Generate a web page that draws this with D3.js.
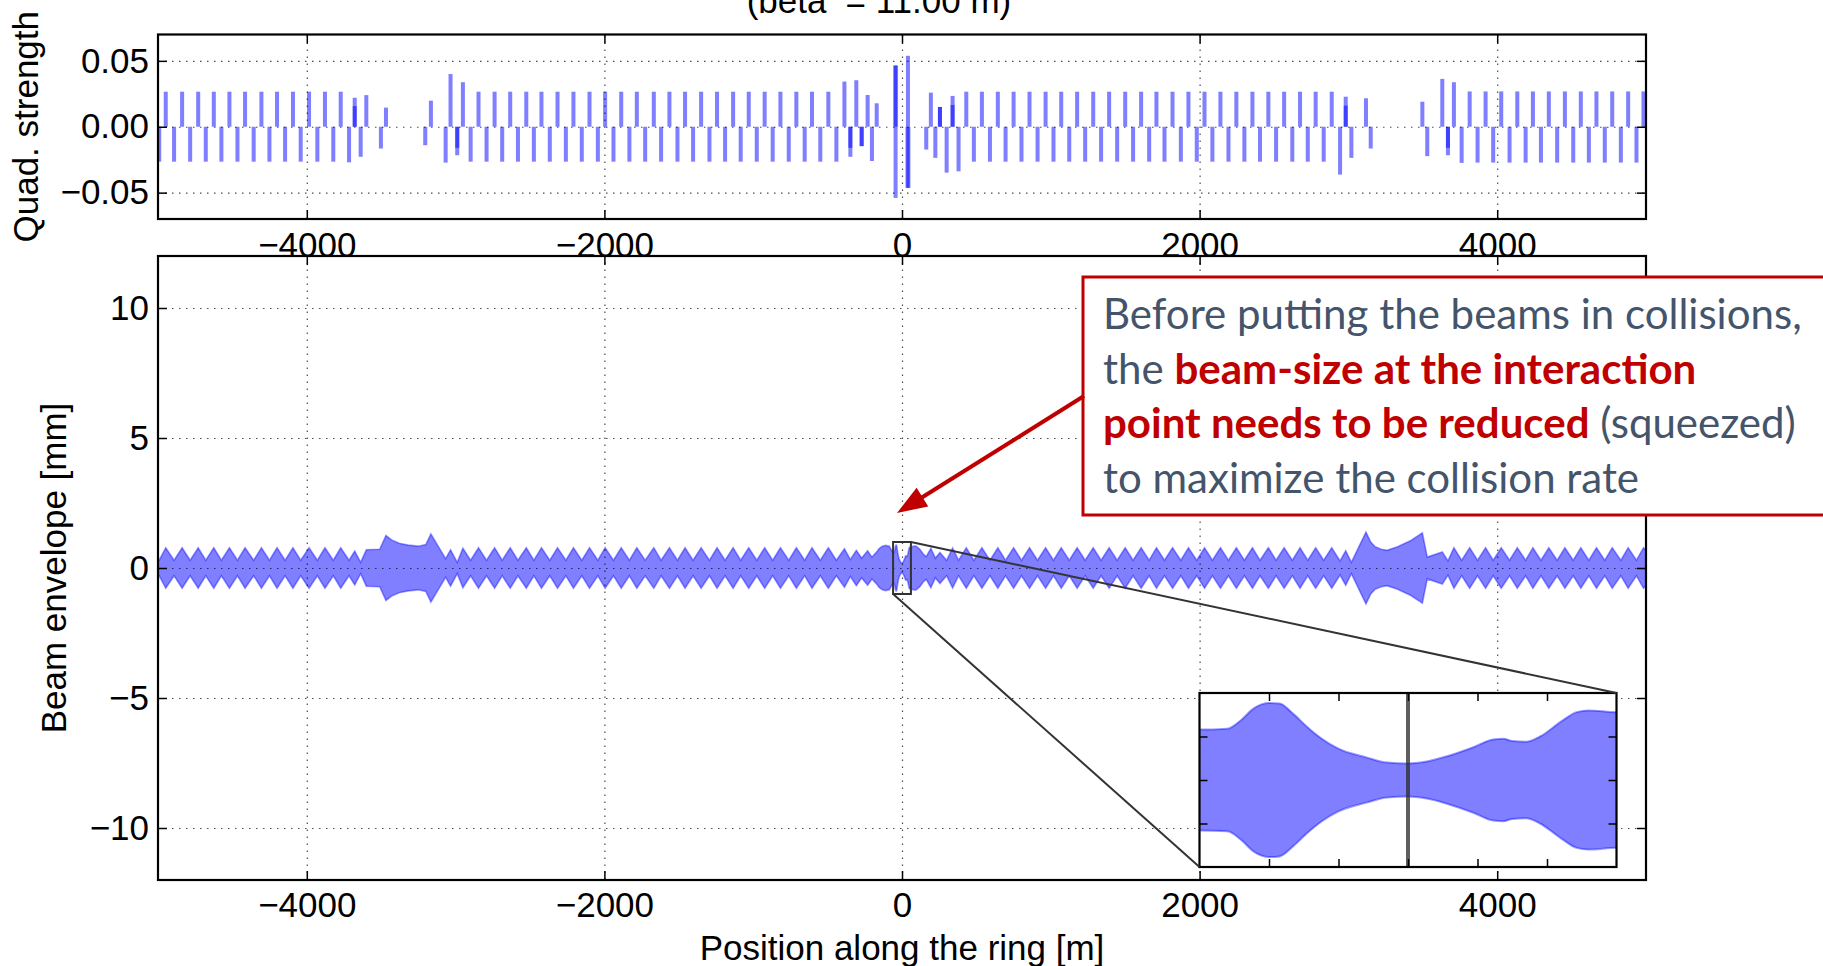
<!DOCTYPE html>
<html>
<head>
<meta charset="utf-8">
<title>Beam envelope along the ring</title>
<script src="https://cdn.jsdelivr.net/npm/d3@7/dist/d3.min.js"></script>
<style>
  body { margin: 0; background: #fff; overflow: hidden; }
  svg { display: block; }
  text { white-space: pre; }
</style>
</head>
<body>
<script>
// quadrupoles: [position along the ring (m), normalised strength]
// (two entries at the same place = overlapping bars, drawn darker)
const quads = [
  [-4992, -0.0265], [-4948, 0.0266], [-4892, -0.0265], [-4838, 0.0266], [-4784, -0.0265],
  [-4730, 0.0266], [-4679, -0.0265], [-4625, 0.0266], [-4574, -0.0265], [-4520, 0.0266],
  [-4466, -0.0265], [-4415, 0.0266], [-4357, -0.0265], [-4305, 0.0266], [-4251, -0.0265],
  [-4200, 0.0266], [-4146, -0.0265], [-4093, 0.0266], [-4041, -0.0265], [-3985, 0.0266],
  [-3929, -0.0265], [-3878, 0.0266], [-3822, -0.0265], [-3772, 0.0266], [-3716, -0.0270],
  [-3678, 0.0220], [-3678, 0.0157], [-3638, -0.0228], [-3600, 0.0240], [-3502, -0.0165],
  [-3468, 0.0145],
  [-3204, -0.0140], [-3166, 0.0198], [-3067, -0.0272], [-3034, 0.0400], [-2989, -0.0216],
  [-2989, -0.0160], [-2951, 0.0338], [-2899, -0.0265], [-2846, 0.0266], [-2792, -0.0265],
  [-2738, 0.0266], [-2687, -0.0265], [-2633, 0.0266], [-2581, -0.0265], [-2525, 0.0266],
  [-2474, -0.0265], [-2423, 0.0266], [-2367, -0.0265], [-2315, 0.0266], [-2259, -0.0265],
  [-2208, 0.0266], [-2152, -0.0265], [-2100, 0.0266], [-2044, -0.0265], [-1995, 0.0266],
  [-1939, -0.0265], [-1887, 0.0266], [-1832, -0.0265], [-1782, 0.0266], [-1726, -0.0265],
  [-1668, 0.0266], [-1619, -0.0265], [-1563, 0.0266], [-1509, -0.0265], [-1458, 0.0266],
  [-1404, -0.0265], [-1350, 0.0266], [-1294, -0.0265], [-1243, 0.0266], [-1189, -0.0265],
  [-1135, 0.0266], [-1084, -0.0265], [-1030, 0.0266], [-976, -0.0265], [-923, 0.0266],
  [-869, -0.0265], [-817, 0.0266], [-761, -0.0265], [-710, 0.0266], [-654, -0.0265],
  [-605, 0.0266], [-549, -0.0265], [-495, 0.0266], [-441, -0.0265], [-387, 0.0343],
  [-347, -0.0228], [-347, -0.0160], [-307, 0.0353], [-271, -0.0147], [-271, -0.0147],
  [-231, 0.0241], [-202, -0.0260], [-170, 0.0178],
  [-46, 0.0465], [-43, -0.0540], [-40, 0.0465],
  [37, -0.0464], [40, 0.0538], [43, -0.0464],
  [163, -0.0173], [194, 0.0259], [224, -0.0236], [255, 0.0150], [255, 0.0150],
  [300, -0.0348], [340, 0.0234], [340, 0.0165], [380, -0.0338], [432, 0.0266],
  [483, -0.0265], [537, 0.0266], [591, -0.0265], [644, 0.0266], [696, -0.0265],
  [750, 0.0266], [803, -0.0265], [857, 0.0266], [911, -0.0265], [965, 0.0266],
  [1018, -0.0265], [1070, 0.0266], [1124, -0.0265], [1177, 0.0266], [1231, -0.0265],
  [1285, 0.0266], [1338, -0.0265], [1392, 0.0266], [1446, -0.0265], [1500, 0.0266],
  [1553, -0.0265], [1607, 0.0266], [1661, -0.0265], [1710, 0.0266], [1764, -0.0265],
  [1818, 0.0266], [1874, -0.0265], [1925, 0.0266], [1981, -0.0265], [2033, 0.0266],
  [2086, -0.0265], [2140, 0.0266], [2194, -0.0265], [2247, 0.0266], [2301, -0.0265],
  [2355, 0.0266], [2406, -0.0265], [2462, 0.0266], [2514, -0.0265], [2568, 0.0266],
  [2623, -0.0265], [2675, 0.0266], [2727, -0.0265], [2780, 0.0266], [2834, -0.0265],
  [2888, 0.0266], [2944, -0.0363], [2982, 0.0228], [2982, 0.0160], [3020, -0.0236],
  [3118, 0.0216], [3150, -0.0165],
  [3497, 0.0190], [3530, -0.0223], [3631, 0.0363], [3669, -0.0216], [3669, -0.0160],
  [3709, 0.0338], [3761, -0.0274], [3815, 0.0268], [3868, -0.0272], [3922, 0.0268],
  [3973, -0.0272], [4027, 0.0268], [4083, -0.0272], [4135, 0.0268], [4191, -0.0272],
  [4240, 0.0268], [4294, -0.0272], [4347, 0.0268], [4403, -0.0272], [4455, 0.0268],
  [4511, -0.0272], [4562, 0.0268], [4616, -0.0272], [4667, 0.0268], [4723, -0.0272],
  [4773, 0.0268], [4831, -0.0272], [4880, 0.0268], [4936, -0.0272], [4983, 0.0268]
];

// beam envelope: [position (m), half size (mm)], the band is filled between -a and +a
const envelope = [
  [-5010, 0.34], [-4992, 0.30], [-4948, 0.78], [-4892, 0.30], [-4838, 0.78], [-4784, 0.30],
  [-4730, 0.78], [-4679, 0.30], [-4625, 0.78], [-4574, 0.30], [-4520, 0.78], [-4466, 0.30],
  [-4415, 0.78], [-4357, 0.30], [-4305, 0.78], [-4251, 0.30], [-4200, 0.78], [-4146, 0.30],
  [-4093, 0.78], [-4041, 0.30], [-3985, 0.78], [-3929, 0.30], [-3878, 0.78], [-3822, 0.30],
  [-3772, 0.78], [-3716, 0.30], [-3678, 0.65], [-3638, 0.22], [-3600, 0.70], [-3510, 0.72],
  [-3468, 1.25], [-3430, 1.08], [-3380, 0.95], [-3320, 0.88], [-3250, 0.84], [-3200, 0.90],
  [-3166, 1.31], [-3067, 0.36], [-3034, 0.70], [-2989, 0.22], [-2951, 0.76], [-2899, 0.30],
  [-2846, 0.78], [-2792, 0.30], [-2738, 0.78], [-2687, 0.30], [-2633, 0.78], [-2581, 0.30],
  [-2525, 0.78], [-2474, 0.30], [-2423, 0.78], [-2367, 0.30], [-2315, 0.78], [-2259, 0.30],
  [-2208, 0.78], [-2152, 0.30], [-2100, 0.78], [-2044, 0.30], [-1995, 0.78], [-1939, 0.30],
  [-1887, 0.78], [-1832, 0.30], [-1782, 0.78], [-1726, 0.30], [-1668, 0.78], [-1619, 0.30],
  [-1563, 0.78], [-1509, 0.30], [-1458, 0.78], [-1404, 0.30], [-1350, 0.78], [-1294, 0.30],
  [-1243, 0.78], [-1189, 0.30], [-1135, 0.78], [-1084, 0.30], [-1030, 0.78], [-976, 0.30],
  [-923, 0.78], [-869, 0.30], [-817, 0.78], [-761, 0.30], [-710, 0.78], [-654, 0.30],
  [-605, 0.78], [-549, 0.30], [-495, 0.78], [-441, 0.30], [-387, 0.74], [-347, 0.33],
  [-307, 0.68], [-271, 0.38], [-231, 0.66], [-202, 0.42], [-170, 0.62], [-155, 0.74],
  [-135, 0.83], [-110, 0.87], [-85, 0.84], [-70, 0.68],
  [-60, 0.58], [-52, 0.59], [-48, 0.69], [-44.5, 0.82], [-40, 0.885], [-37, 0.878],
  [-33, 0.76], [-29, 0.61], [-25, 0.48], [-20, 0.36], [-12, 0.26], [-6, 0.20], [0, 0.19],
  [5, 0.21], [11, 0.27], [19, 0.38], [24.5, 0.466], [27.5, 0.473], [30, 0.447], [34, 0.44],
  [38, 0.50], [44, 0.67], [48.5, 0.78], [52, 0.80], [60, 0.78],
  [75, 0.84], [95, 0.84], [120, 0.72], [145, 0.52], [163, 0.44], [194, 0.76], [224, 0.38],
  [255, 0.60], [300, 0.30], [340, 0.77], [380, 0.30], [432, 0.78], [483, 0.30], [537, 0.78],
  [591, 0.30], [644, 0.78], [696, 0.30], [750, 0.78], [803, 0.30], [857, 0.78], [911, 0.30],
  [965, 0.78], [1018, 0.30], [1070, 0.78], [1124, 0.30], [1177, 0.78], [1231, 0.30],
  [1285, 0.78], [1338, 0.30], [1392, 0.78], [1446, 0.30], [1500, 0.78], [1553, 0.30],
  [1607, 0.78], [1661, 0.30], [1710, 0.78], [1764, 0.30], [1818, 0.78], [1874, 0.30],
  [1925, 0.78], [1981, 0.30], [2033, 0.78], [2086, 0.30], [2140, 0.78], [2194, 0.30],
  [2247, 0.78], [2301, 0.30], [2355, 0.78], [2406, 0.30], [2462, 0.78], [2514, 0.30],
  [2568, 0.78], [2623, 0.30], [2675, 0.78], [2727, 0.30], [2780, 0.78], [2834, 0.30],
  [2888, 0.78], [2944, 0.27], [2982, 0.66], [3020, 0.22], [3118, 1.38], [3150, 1.00],
  [3180, 0.82], [3220, 0.72], [3260, 0.68], [3330, 0.82], [3420, 1.06], [3497, 1.35],
  [3530, 0.42], [3631, 0.62], [3669, 0.28], [3709, 0.78], [3761, 0.30], [3815, 0.78],
  [3868, 0.30], [3922, 0.78], [3973, 0.30], [4027, 0.78], [4083, 0.30], [4135, 0.78],
  [4191, 0.30], [4240, 0.78], [4294, 0.30], [4347, 0.78], [4403, 0.30], [4455, 0.78],
  [4511, 0.30], [4562, 0.78], [4616, 0.30], [4667, 0.78], [4723, 0.30], [4773, 0.78],
  [4831, 0.30], [4880, 0.78], [4936, 0.30], [4983, 0.78], [5010, 0.62]
];

const xTicks = [-4000, -2000, 0, 2000, 4000];
const quadTicks = [-0.05, 0, 0.05];
const envTicks = [-10, -5, 0, 5, 10];
const zoomXTicks = [-40, -20, 0, 20, 40];
const zoomYTicks = [-0.5, 0, 0.5];
const zoomRange = [-60, 60];

const noteLines = [
  [["Before putting the beams in collisions,", false]],
  [["the ", false], ["beam-size at the interaction", true]],
  [["point needs to be reduced", true], [" (squeezed)", false]],
  [["to maximize the collision rate", false]]
];

const width = 1823, height = 966;
const font = "'Liberation Sans', Arial, Helvetica, sans-serif";
const svg = d3.select("body").append("svg")
  .attr("width", width)
  .attr("height", height);

const x = d3.scaleLinear().domain([-5000, 5000]).range([158, 1646]);
const yq = d3.scaleLinear().domain([-0.07, 0.07]).range([219, 34.5]);
const ye = d3.scaleLinear().domain([-12, 12]).range([880, 256]);
const xz = d3.scaleLinear().domain(zoomRange).range([1199.5, 1616.5]);
const yz = d3.scaleLinear().domain([-1, 1]).range([867, 693]);
const quadWidth = 27; // m

// dotted grid, drawn over the data like the classic matplotlib style
function grid(xs, ys, xt, yt) {
  const [x0, x1] = xs.range(), [y0, y1] = ys.range();
  const g = svg.append("g");
  g.append("g").attr("transform", `translate(0,${y0})`)
    .call(d3.axisBottom(xs).tickValues(xt).tickSize(-(y0 - y1)).tickFormat(""));
  g.append("g").attr("transform", `translate(${x0},0)`)
    .call(d3.axisLeft(ys).tickValues(yt).tickSize(-(x1 - x0)).tickFormat(""));
  g.selectAll(".domain").remove();
  g.selectAll(".tick line")
    .attr("stroke", "#000")
    .attr("stroke-width", 1.2)
    .attr("stroke-opacity", 0.7)
    .attr("stroke-dasharray", "1.5,5.5");
}

// inward ticks on all four sides, labels on bottom/left only, then the frame
function frame(xs, ys, xt, yt, o) {
  const [x0, x1] = xs.range(), [y0, y1] = ys.range();
  const sides = [
    [d3.axisBottom(xs), xt, `translate(0,${y0})`, o.xFormat, o.xPad],
    [d3.axisTop(xs), xt, `translate(0,${y1})`, null, 0],
    [d3.axisLeft(ys), yt, `translate(${x0},0)`, o.yFormat, o.yPad],
    [d3.axisRight(ys), yt, `translate(${x1},0)`, null, 0]
  ];
  sides.forEach(([axis, ticks, tr, fmt, pad]) => {
    axis.tickValues(ticks).tickSize(-o.tick).tickPadding(pad).tickFormat(fmt || (() => ""));
    const a = svg.append("g").attr("transform", tr).call(axis);
    a.attr("font-size", 35).attr("font-family", font);
    a.select(".domain").remove();
    a.selectAll(".tick line").attr("stroke", "#000").attr("stroke-width", 1.5);
    a.selectAll("text").attr("fill", "#000");
  });
  svg.append("rect")
    .attr("x", x0).attr("y", y1)
    .attr("width", x1 - x0).attr("height", y0 - y1)
    .attr("fill", "none").attr("stroke", "#000").attr("stroke-width", o.stroke);
}

function clip(id, xs, ys) {
  const [x0, x1] = xs.range(), [y0, y1] = ys.range();
  svg.append("clipPath").attr("id", id).append("rect")
    .attr("x", x0).attr("y", y1).attr("width", x1 - x0).attr("height", y0 - y1);
}

// ---- title (top is cut by the picture edge) ----
const title = svg.append("text")
  .attr("x", 879).attr("y", 13)
  .attr("text-anchor", "middle")
  .attr("font-family", font).attr("font-size", 35);
title.append("tspan").text("(beta");
title.append("tspan").text("*").attr("font-size", 24).attr("dy", -22);
title.append("tspan").text(" = 11.00 m)").attr("dy", 22);

// ---- upper panel: quadrupole strengths ----
clip("clip-quad", x, yq);
svg.append("g").attr("clip-path", "url(#clip-quad)")
  .selectAll("rect").data(quads).join("rect")
  .attr("x", d => x(d[0] - quadWidth / 2))
  .attr("width", d => x(d[0] + quadWidth / 2) - x(d[0] - quadWidth / 2))
  .attr("y", d => yq(Math.max(0, d[1])))
  .attr("height", d => Math.abs(yq(d[1]) - yq(0)))
  .attr("fill", "#0000ff")
  .attr("fill-opacity", 0.5);

grid(x, yq, xTicks, quadTicks);
frame(x, yq, xTicks, quadTicks, {
  tick: 9, stroke: 2.2,
  xFormat: d3.format("d"), xPad: 13,
  yFormat: d3.format(".2f"), yPad: 9
});

svg.append("text")
  .attr("transform", `translate(38,${(yq.range()[0] + yq.range()[1]) / 2}) rotate(-90)`)
  .attr("text-anchor", "middle")
  .attr("font-family", font).attr("font-size", 35)
  .text("Quad. strength");

// ---- main panel: beam envelope ----
svg.append("rect")
  .attr("x", x.range()[0]).attr("y", ye.range()[1])
  .attr("width", x.range()[1] - x.range()[0])
  .attr("height", ye.range()[0] - ye.range()[1])
  .attr("fill", "#fff");

clip("clip-env", x, ye);
const env = svg.append("g").attr("clip-path", "url(#clip-env)");
env.append("path")
  .datum(envelope)
  .attr("d", d3.area().x(d => x(d[0])).y0(d => ye(-d[1])).y1(d => ye(d[1])))
  .attr("fill", "#0000ff").attr("fill-opacity", 0.5);
[1, -1].forEach(sign => {
  env.append("path")
    .datum(envelope)
    .attr("d", d3.line().x(d => x(d[0])).y(d => ye(sign * d[1])))
    .attr("fill", "none")
    .attr("stroke", "#0000ff").attr("stroke-opacity", 0.4).attr("stroke-width", 1.6);
});

grid(x, ye, xTicks, envTicks);
frame(x, ye, xTicks, envTicks, {
  tick: 9, stroke: 2.2,
  xFormat: d3.format("d"), xPad: 12,
  yFormat: d3.format("d"), yPad: 9
});

svg.append("text")
  .attr("transform", `translate(66,${(ye.range()[0] + ye.range()[1]) / 2}) rotate(-90)`)
  .attr("text-anchor", "middle")
  .attr("font-family", font).attr("font-size", 35)
  .text("Beam envelope [mm]");

svg.append("text")
  .attr("x", x(0)).attr("y", 960)
  .attr("text-anchor", "middle")
  .attr("font-family", font).attr("font-size", 35)
  .text("Position along the ring [m]");

// ---- zoom around the interaction point ----
const boxColor = "#333";
svg.append("rect")
  .attr("x", x(zoomRange[0])).attr("y", ye(1))
  .attr("width", x(zoomRange[1]) - x(zoomRange[0]))
  .attr("height", ye(-1) - ye(1))
  .attr("fill", "none").attr("stroke", boxColor).attr("stroke-width", 2);

svg.append("rect")
  .attr("x", xz.range()[0]).attr("y", yz.range()[1])
  .attr("width", xz.range()[1] - xz.range()[0])
  .attr("height", yz.range()[0] - yz.range()[1])
  .attr("fill", "#fff");

clip("clip-zoom", xz, yz);
const zoomData = envelope.filter(d => d[0] >= -90 && d[0] <= 100);
const zg = svg.append("g").attr("clip-path", "url(#clip-zoom)");
zg.append("path")
  .datum(zoomData)
  .attr("d", d3.area().curve(d3.curveMonotoneX)
    .x(d => xz(d[0])).y0(d => yz(-d[1])).y1(d => yz(d[1])))
  .attr("fill", "#0000ff").attr("fill-opacity", 0.5);
[1, -1].forEach(sign => {
  zg.append("path")
    .datum(zoomData)
    .attr("d", d3.line().curve(d3.curveMonotoneX).x(d => xz(d[0])).y(d => yz(sign * d[1])))
    .attr("fill", "none")
    .attr("stroke", "#0000ff").attr("stroke-opacity", 0.4).attr("stroke-width", 2);
});
zg.append("line")
  .attr("x1", xz(0)).attr("x2", xz(0))
  .attr("y1", yz.range()[1]).attr("y2", yz.range()[0])
  .attr("stroke", "#2a2a2a").attr("stroke-opacity", 0.75).attr("stroke-width", 4);

frame(xz, yz, zoomXTicks, zoomYTicks, { tick: 8, stroke: 2.2, xPad: 0, yPad: 0 });

svg.append("line")
  .attr("x1", x(zoomRange[1])).attr("y1", ye(1))
  .attr("x2", xz(zoomRange[1])).attr("y2", yz(1))
  .attr("stroke", boxColor).attr("stroke-width", 2);
svg.append("line")
  .attr("x1", x(zoomRange[0])).attr("y1", ye(-1))
  .attr("x2", xz(zoomRange[0])).attr("y2", yz(-1))
  .attr("stroke", boxColor).attr("stroke-width", 2);

// ---- annotation box and arrow ----
const red = "#c00000";
const note = svg.append("g");
note.append("rect")
  .attr("x", 1083).attr("y", 277)
  .attr("width", 800).attr("height", 238)
  .attr("fill", "#fff").attr("stroke", red).attr("stroke-width", 3);

const noteFont = "Lato, Carlito, 'Open Sans', sans-serif";
const texts = noteLines.map((parts, i) => {
  const t = note.append("text")
    .attr("x", 1103).attr("y", 329 + i * 54.5)
    .attr("font-family", noteFont).attr("font-size", 40)
    .attr("fill", "#44546a");
  parts.forEach(([s, strong]) => {
    const span = t.append("tspan").text(s);
    if (strong) span.attr("font-weight", "bold").attr("fill", red);
  });
  return t;
});
// fit the first line to the width it has in the picture
const fit = 40 * 699 / texts[0].node().getComputedTextLength();
texts.forEach(t => t.attr("font-size", fit));

const tip = [897, 513], start = [1084, 396];
const ang = Math.atan2(tip[1] - start[1], tip[0] - start[0]);
const headLen = 30, headHalf = 11;
const base = [tip[0] - headLen * Math.cos(ang), tip[1] - headLen * Math.sin(ang)];
svg.append("line")
  .attr("x1", start[0]).attr("y1", start[1])
  .attr("x2", base[0] + 4 * Math.cos(ang)).attr("y2", base[1] + 4 * Math.sin(ang))
  .attr("stroke", red).attr("stroke-width", 4);
svg.append("polygon")
  .attr("points", [
    tip,
    [base[0] - headHalf * Math.sin(ang), base[1] + headHalf * Math.cos(ang)],
    [base[0] + headHalf * Math.sin(ang), base[1] - headHalf * Math.cos(ang)]
  ].map(p => p.join(",")).join(" "))
  .attr("fill", red);
</script>
</body>
</html>
